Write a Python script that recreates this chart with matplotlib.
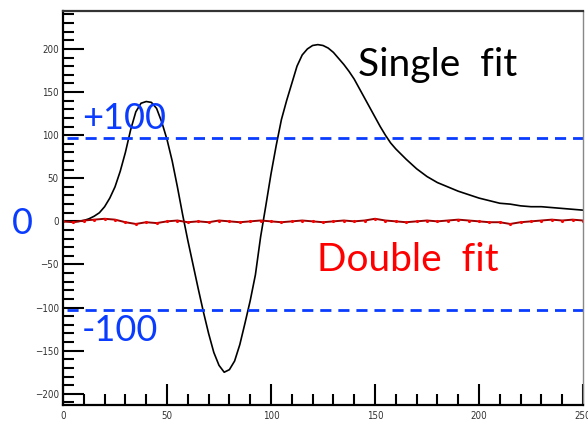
import matplotlib
matplotlib.use("Agg")
import matplotlib.pyplot as plt
from matplotlib.ticker import MultipleLocator

# Single-fit residual (black)
single_x = [0, 2.5, 5, 7.5, 10, 12.5, 15, 17.5, 20, 22.5, 25, 27.5, 30, 32.5, 35, 37.5,
            40, 42.5, 45, 47.5, 50, 52.5, 55, 57.5, 60, 62.5, 65, 67.5, 70, 72.5, 75,
            77.5, 80, 82.5, 85, 87.5, 90, 92.5, 95, 97.5, 100, 102.5, 105, 107.5, 110,
            112.5, 115, 117.5, 120, 122.5, 125, 127.5, 130, 132.5, 135, 137.5, 140,
            142.5, 145, 147.5, 150, 152.5, 155, 157.5, 160, 162.5, 165, 170, 175, 180,
            185, 190, 195, 200, 205, 210, 215, 220, 225, 230, 235, 240, 245, 250]
single_y = [0, 0, 0, 0, 1, 3, 6, 10, 17, 27, 40, 58, 80, 106, 127, 137,
            139, 138, 131, 115, 95, 70, 40, 8, -22, -50, -78, -105, -130, -152, -167,
            -175, -172, -162, -143, -118, -92, -62, -18, 18, 55, 88, 118, 140, 160,
            180, 193, 200, 204, 205, 204, 201, 196, 189, 182, 174, 165,
            154, 143, 132, 121, 110, 100, 91, 84, 78, 72, 61, 52, 45,
            40, 35, 31, 27, 24, 21, 20, 18, 17, 17, 16, 15, 14, 13]

# Double-fit residual (red)
double_x = [0, 5, 10, 15, 20, 25, 30, 35, 40, 45, 50, 55, 60, 65, 70, 75, 80, 85, 90,
            95, 100, 105, 110, 115, 120, 125, 130, 135, 140, 145, 150, 155, 160, 165,
            170, 175, 180, 185, 190, 195, 200, 205, 210, 215, 220, 225, 230, 235, 240,
            245, 250]
double_y = [0, -1, 1, 2, 3, 2, -1, -3, -1, -2, 0, 1, -1, 0, -1, 1, 0, -1, 0,
            1, 0, -1, 0, 1, 0, -1, 0, 1, 0, 1, 3, 1, 0, -1, 0, 1, 0, 1, 2,
            1, 0, -1, -1, -3, -1, 0, 1, 2, 1, 2, 1]

# Reference levels drawn on the slide
level_y = [97, -103]
level_labels = ["+100", "-100"]

BLUE = "#0a3cff"
TXT_FONT = ["Lato", "DejaVu Sans"]

fig = plt.figure(figsize=(5.88, 4.23), dpi=100)
ax = fig.add_axes([63 / 588, 18 / 423, 520 / 588, 394 / 423])

ax.plot(single_x, single_y, color="black", lw=1.2)
ax.plot(double_x, double_y, color="#9a0000", lw=1.4, marker=".", ms=2.5,
        mfc="red", mec="red")

for yv in level_y:
    ax.plot([2, 250], [yv, yv], color=BLUE, lw=2, ls=(0, (4, 2.5)))

ax.set_xlim(0, 250)
ax.set_ylim(-213, 244)

ax.xaxis.set_major_locator(MultipleLocator(50))
ax.xaxis.set_minor_locator(MultipleLocator(10))
ax.yaxis.set_major_locator(MultipleLocator(50))
ax.yaxis.set_minor_locator(MultipleLocator(10))
ax.tick_params(which="major", direction="in", length=15, width=1.5, color="black",
               labelsize=7, labelcolor="#333333")
ax.tick_params(which="minor", direction="in", length=8, width=1.5, color="black")
ax.tick_params(axis="x", pad=4)
ax.tick_params(axis="y", pad=3)
ax.tick_params(top=False, right=False, which="both")
for lab in ax.get_xticklabels() + ax.get_yticklabels():
    lab.set_family("DejaVu Sans")
    lab.set_stretch("condensed")

for side in ["left", "bottom", "top"]:
    ax.spines[side].set_linewidth(1.6)
    ax.spines[side].set_color("black")
ax.spines["top"].set_color("#333333")
ax.spines["right"].set_linewidth(1.0)
ax.spines["right"].set_color("#888888")

ax.text(9, 100, level_labels[0], color=BLUE, fontsize=26, family=TXT_FONT,
        ha="left", va="bottom")
ax.text(9, -108, level_labels[1], color=BLUE, fontsize=26, family=TXT_FONT,
        ha="left", va="top")
ax.text(142, 181, "Single  fit", color="black", fontsize=28, family=TXT_FONT,
        ha="left", va="center")
ax.text(122, -45, "Double  fit", color="red", fontsize=28, family=TXT_FONT,
        ha="left", va="center")
fig.text(12 / 588, 1 - 223 / 423, "0", color=BLUE, fontsize=26, family=TXT_FONT,
         ha="left", va="center")

fig.savefig("out.png", dpi=100)
